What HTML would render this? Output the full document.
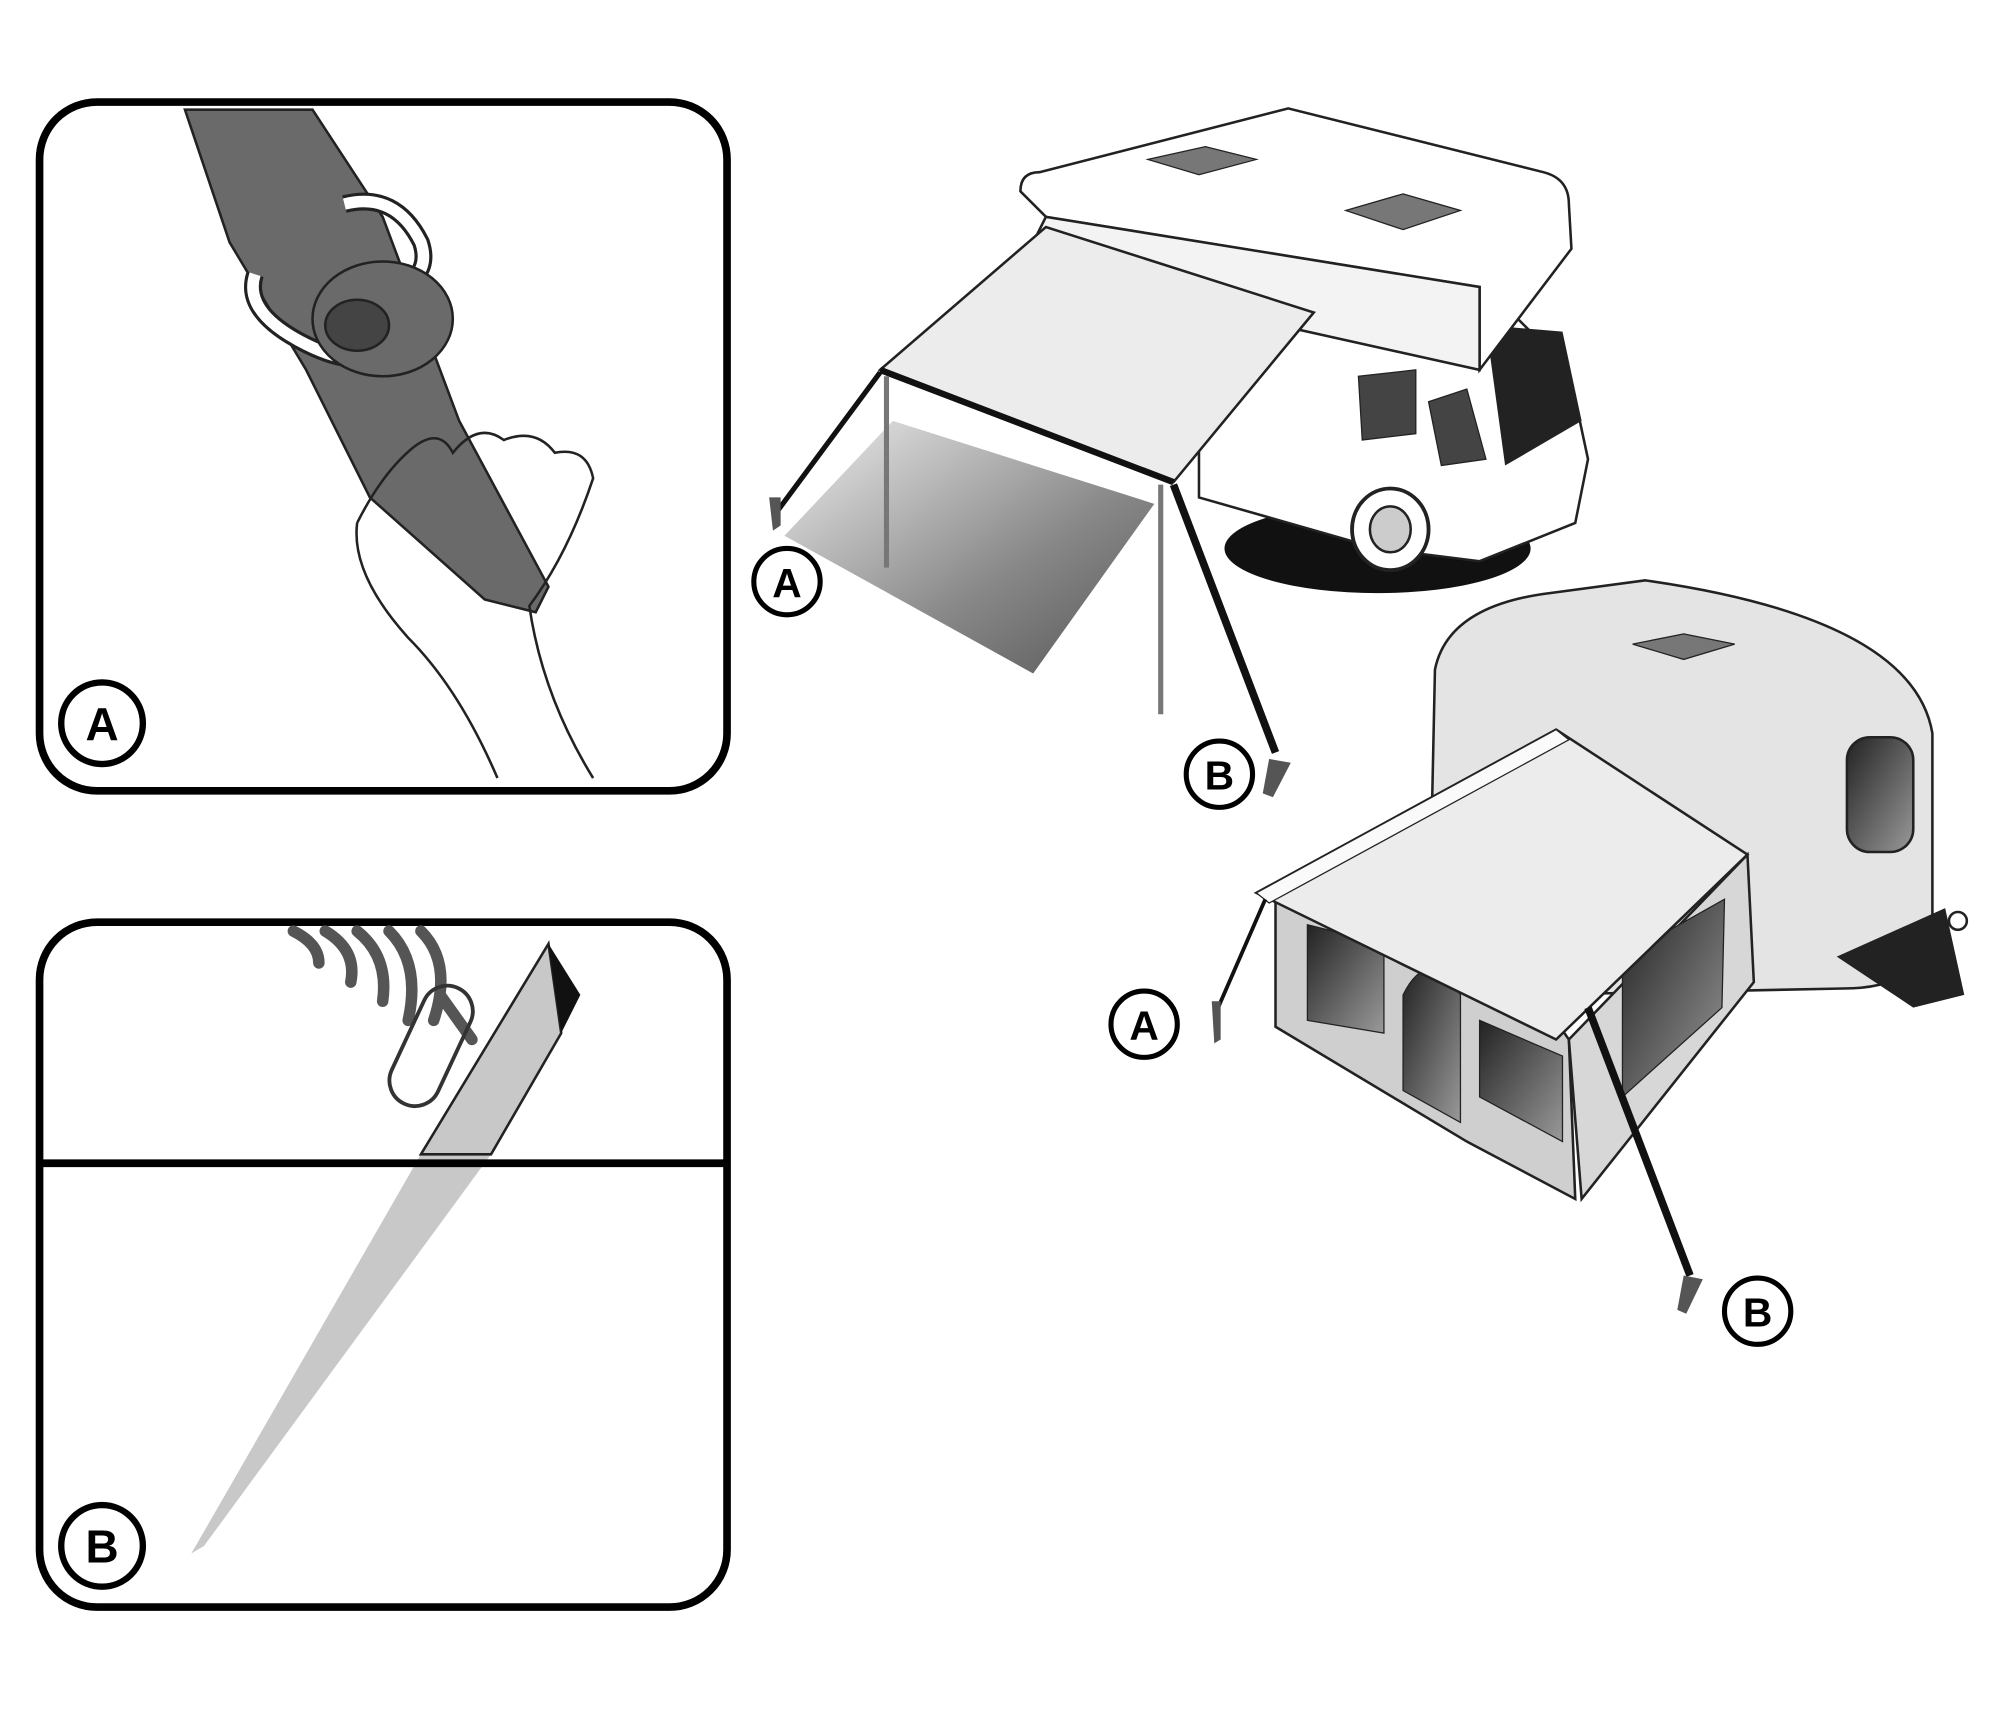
<!DOCTYPE html>
<html><head><meta charset="utf-8"><style>
html,body{margin:0;padding:0;background:#fff;}
svg{display:block;}
text{font-family:"Liberation Sans",sans-serif;font-weight:bold;}
</style></head><body>
<svg width="2000" height="1727" viewBox="0 0 1568 1354" preserveAspectRatio="none" xmlns="http://www.w3.org/2000/svg">
<defs>
<linearGradient id="sh" x1="0" y1="0" x2="1" y2="1">
<stop offset="0" stop-color="#eee"/><stop offset="0.6" stop-color="#888"/><stop offset="1" stop-color="#555"/></linearGradient>
<linearGradient id="win" x1="0" y1="0" x2="1" y2="1">
<stop offset="0" stop-color="#222"/><stop offset="1" stop-color="#999"/></linearGradient>
</defs>
<rect width="1568" height="1354" fill="#fff"/>

<!-- Panel A -->
<rect x="31" y="80" width="539" height="540" rx="45" fill="#fff" stroke="#000" stroke-width="6"/>
<polygon points="145,86 245,86 300,170 330,250 360,330 430,460 420,480 380,470 290,390 240,290 180,190" fill="#6a6a6a" stroke="#222" stroke-width="2"/>
<path d="M200,215 q-10,30 40,55 q40,20 60,5" fill="none" stroke="#222" stroke-width="14"/>
<path d="M200,215 q-10,30 40,55 q40,20 60,5" fill="none" stroke="#fff" stroke-width="9"/>
<path d="M270,160 q40,-10 60,30 q10,30 -30,40" fill="none" stroke="#222" stroke-width="14"/>
<path d="M270,160 q40,-10 60,30 q10,30 -30,40" fill="none" stroke="#fff" stroke-width="9"/>
<ellipse cx="300" cy="250" rx="55" ry="45" fill="#6a6a6a" stroke="#222" stroke-width="2"/>
<ellipse cx="280" cy="255" rx="25" ry="20" fill="#444" stroke="#222" stroke-width="2"/>
<path d="M280,410 q20,-40 45,-60 q20,-15 30,5 q20,-25 40,-10 q25,-10 40,10 q25,-5 30,20 q-20,60 -50,100 q10,70 50,135 M280,410 q-5,40 40,90 q40,40 70,110" fill="none" stroke="#222" stroke-width="2"/>
<circle cx="80" cy="567" r="32" fill="#fff" stroke="#000" stroke-width="5"/>
<text x="80" y="580" font-size="36" text-anchor="middle">A</text>

<!-- Panel B -->
<rect x="31" y="723" width="539" height="537" rx="45" fill="#fff" stroke="#000" stroke-width="6"/>
<polygon points="150,1218 330,905 385,905 160,1212" fill="#c8c8c8"/>
<polygon points="330,905 430,740 440,810 385,905" fill="#c8c8c8" stroke="#222" stroke-width="2"/>
<polygon points="430,740 455,780 440,810" fill="#111"/>
<g stroke="#555" stroke-width="9" fill="none" stroke-linecap="round">
<path d="M230,730 q20,10 20,25"/><path d="M255,730 q25,15 20,40"/><path d="M280,730 q25,20 20,55"/><path d="M305,730 q25,25 15,70"/><path d="M330,730 q25,25 10,70"/><path d="M345,780 l25,35"/>
</g>
<rect x="318" y="770" width="40" height="100" rx="20" fill="none" stroke="#333" stroke-width="3" transform="rotate(25 338 820)"/>
<line x1="31" y1="912" x2="570" y2="912" stroke="#000" stroke-width="6"/>
<circle cx="80" cy="1212" r="32" fill="#fff" stroke="#000" stroke-width="5"/>
<text x="80" y="1225" font-size="36" text-anchor="middle">B</text>

<!-- Motorhome -->
<ellipse cx="1080" cy="430" rx="120" ry="35" fill="#111"/>
<polygon points="700,330 615,420 810,528 905,395" fill="url(#sh)"/>
<path d="M940,230 L1180,240 L1230,290 L1245,360 L1235,410 L1160,440 L1080,430 L940,390 Z" fill="#fff" stroke="#222" stroke-width="2"/>
<polygon points="1165,255 1225,260 1240,330 1180,365" fill="#222"/>
<polygon points="1065,295 1110,290 1110,340 1068,345" fill="#444" stroke="#222"/>
<polygon points="1120,315 1150,305 1165,360 1130,365" fill="#444" stroke="#222"/>
<ellipse cx="1090" cy="415" rx="30" ry="32" fill="#fff" stroke="#222" stroke-width="3"/>
<ellipse cx="1090" cy="415" rx="16" ry="18" fill="#ccc" stroke="#222" stroke-width="2"/>
<path d="M800,150 q0,-15 15,-15 L1010,85 L1210,135 q20,5 20,25 L1232,195 L1160,290 L1160,225 L820,170 Z" fill="#fff" stroke="#222" stroke-width="2"/>
<polygon points="820,170 1160,225 1160,290 800,210" fill="#f3f3f3" stroke="#222" stroke-width="2"/>
<polygon points="900,125 945,115 985,125 940,137" fill="#777" stroke="#222"/>
<polygon points="1055,165 1100,152 1145,165 1100,180" fill="#777" stroke="#222"/>
<polygon points="690,290 820,178 1030,245 920,378" fill="#ececec" stroke="#222" stroke-width="2"/>
<line x1="690" y1="290" x2="920" y2="378" stroke="#111" stroke-width="5"/>
<line x1="695" y1="295" x2="695" y2="445" stroke="#777" stroke-width="4"/>
<line x1="910" y1="380" x2="910" y2="560" stroke="#777" stroke-width="4"/>
<line x1="690" y1="292" x2="610" y2="400" stroke="#111" stroke-width="4"/>
<line x1="920" y1="380" x2="1000" y2="590" stroke="#111" stroke-width="6"/>
<polygon points="603,390 612,390 612,412 606,416" fill="#555"/>
<polygon points="995,595 1012,598 998,625 990,622" fill="#555"/>
<circle cx="617" cy="456" r="26" fill="#fff" stroke="#000" stroke-width="4"/>
<text x="617" y="468" font-size="32" text-anchor="middle">A</text>
<circle cx="956" cy="607" r="26" fill="#fff" stroke="#000" stroke-width="4"/>
<text x="956" y="619" font-size="32" text-anchor="middle">B</text>

<!-- Caravan -->
<path d="M1125,525 q10,-50 90,-60 L1290,455 q210,30 225,120 L1515,720 q0,55 -70,55 L1200,780 L1120,760 Z" fill="#e4e4e4" stroke="#222" stroke-width="2"/>
<polygon points="1280,505 1320,497 1360,505 1320,517" fill="#777" stroke="#222"/>
<rect x="1448" y="578" width="52" height="90" rx="18" fill="url(#win)" stroke="#222" stroke-width="2"/>
<polygon points="1440,750 1525,712 1540,780 1500,790" fill="#222"/>
<circle cx="1535" cy="722" r="7" fill="#fff" stroke="#222" stroke-width="2"/>
<polygon points="1000,705 1150,700 1230,815 1235,940 1150,895 1000,805" fill="#cfcfcf" stroke="#222" stroke-width="2"/>
<polygon points="1230,815 1370,670 1375,770 1240,940" fill="#d7d7d7" stroke="#222" stroke-width="2"/>
<polygon points="1025,725 1085,740 1085,810 1025,800" fill="url(#win)" stroke="#222"/>
<path d="M1100,855 L1100,780 q20,-40 45,0 L1145,880 Z" fill="url(#win)" stroke="#222"/>
<polygon points="1160,800 1225,828 1225,895 1160,860" fill="url(#win)" stroke="#222"/>
<polygon points="1272,750 1352,705 1350,790 1272,860" fill="url(#win)" stroke="#222"/>
<polygon points="985,700 1220,572 1370,670 1220,815" fill="#ececec" stroke="#222" stroke-width="2"/>
<polygon points="985,700 1220,572 1230,580 995,708" fill="#fafafa" stroke="#222" stroke-width="1"/>
<line x1="992" y1="705" x2="955" y2="790" stroke="#111" stroke-width="3"/>
<line x1="1245" y1="790" x2="1325" y2="1000" stroke="#111" stroke-width="6"/>
<polygon points="950,785 957,785 957,815 952,818" fill="#555"/>
<polygon points="1320,1000 1335,1003 1322,1030 1315,1027" fill="#555"/>
<circle cx="897" cy="803" r="26" fill="#fff" stroke="#000" stroke-width="4"/>
<text x="897" y="815" font-size="32" text-anchor="middle">A</text>
<circle cx="1378" cy="1028" r="26" fill="#fff" stroke="#000" stroke-width="4"/>
<text x="1378" y="1040" font-size="32" text-anchor="middle">B</text>
</svg>
</body></html>
